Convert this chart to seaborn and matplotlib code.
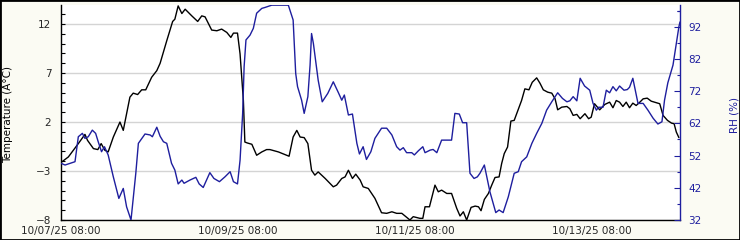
import matplotlib
matplotlib.use("Agg")
import matplotlib.pyplot as plt
import seaborn as sns
import pandas as pd
from matplotlib.ticker import MultipleLocator, FixedLocator
from matplotlib.patches import Rectangle

# ---- data (hours since 10/07/25 08:00) ----
temp_hours = [0.0, 2.0, 4.7, 6.5, 7.2, 8.8, 10.0, 10.9, 11.9, 12.8, 14.2, 16.0, 16.9, 18.7, 19.6,
              20.8, 21.9, 23.0, 24.6, 26.0, 26.9, 28.7, 30.3, 30.9, 31.8, 32.8, 33.7, 35.5, 37.1,
              38.2, 39.1, 40.9, 42.3, 43.6, 45.0, 46.1, 46.8, 47.9, 48.6, 49.5, 49.9, 50.6, 51.8,
              53.1, 54.5, 55.8, 56.7, 59.0, 61.9, 63.0, 64.0, 64.9, 66.0, 67.0, 68.0, 68.9, 69.8,
              71.7, 73.9, 74.8, 76.2, 77.1, 78.0, 79.1, 80.0, 81.2, 82.0, 83.4, 85.2, 87.0, 88.4,
              89.8, 91.1, 92.5, 93.8, 94.7, 95.6, 97.4, 98.2, 98.8, 100.0, 101.5, 102.4, 103.3,
              104.7, 106.0, 107.4, 108.3, 109.2, 110.1, 111.3, 112.4, 113.3, 114.0, 114.9, 116.0,
              116.9, 117.8, 118.9, 119.6, 120.3, 121.2, 122.1, 123.0, 124.0, 125.0, 125.9, 127.0,
              127.9, 129.1, 130.0, 130.9, 132.1, 133.2, 134.1, 134.8, 135.9, 137.3, 138.1, 139.0,
              140.0, 140.9, 142.2, 143.2, 143.9, 144.8, 146.2, 147.6, 148.9, 149.8, 150.7, 151.6,
              152.5, 153.4, 154.3, 155.2, 156.1, 157.1, 158.0, 159.1, 160.2, 161.6, 162.5, 163.4,
              164.6, 165.7, 166.4, 167.0, 167.7]
temp_values = [-2.13, -1.56, -0.2, 0.74, 0.13, -0.71, -0.81, -0.2, -0.88, -1.05, 0.47, 2.0, 1.15,
               4.54, 4.95, 4.81, 5.29, 5.29, 6.57, 7.25, 8.0, 10.3, 12.27, 12.5, 13.86, 13.08, 13.52,
               12.84, 12.27, 12.84, 12.74, 11.39, 11.32, 11.49, 11.15, 10.64, 11.08, 11.08, 8.95, 4.2,
               -0.04, -0.14, -0.27, -1.39, -1.05, -0.81, -0.81, -1.05, -1.49, 0.47, 1.15, 0.47, 0.41,
               -0.2, -2.92, -3.42, -3.09, -3.76, -4.61, -4.44, -3.76, -3.6, -2.92, -3.76, -3.32,
               -3.93, -4.61, -4.78, -5.79, -7.26, -7.32, -7.16, -7.32, -7.32, -7.73, -8.0, -7.66,
               -7.83, -7.83, -6.65, -6.65, -4.44, -5.12, -4.95, -5.29, -5.29, -6.81, -7.59, -7.16,
               -8.0, -6.71, -6.58, -6.65, -7.05, -5.9, -5.29, -4.44, -3.66, -3.6, -2.23, -1.22,
               -0.55, 2.1, 2.17, 3.18, 4.2, 5.39, 5.29, 6.06, 6.51, 5.96, 5.29, 5.05, 4.95, 4.37,
               3.25, 3.52, 3.59, 3.36, 2.68, 2.78, 2.34, 2.85, 2.34, 2.5, 3.87, 3.25, 3.8, 4.03,
               3.46, 4.2, 4.03, 3.59, 4.03, 3.46, 3.93, 3.69, 4.03, 4.37, 4.44, 4.13, 3.97, 3.87,
               2.68, 2.17, 1.89, 1.83, 0.98, 0.41]

rh_hours = [0.0, 1.1, 3.8, 4.7, 5.8, 6.5, 7.4, 8.5, 9.4, 10.1, 11.0, 11.8, 12.8, 14.2, 15.7, 16.9,
            17.8, 19.0, 20.3, 21.0, 22.8, 24.2, 24.8, 26.0, 26.9, 27.8, 28.7, 30.0, 30.9, 31.8,
            32.8, 33.4, 35.0, 36.6, 37.5, 38.6, 40.4, 41.5, 43.0, 44.5, 45.9, 46.8, 47.9, 48.6,
            49.3, 49.7, 50.2, 51.3, 52.2, 53.1, 54.5, 55.4, 57.2, 61.7, 63.0, 63.7, 64.2, 65.3,
            66.0, 67.0, 67.6, 68.0, 68.5, 69.8, 70.9, 72.4, 73.9, 75.3, 76.2, 76.9, 78.0, 79.1,
            80.3, 81.0, 82.0, 82.9, 84.1, 85.2, 87.0, 88.4, 89.8, 91.1, 92.0, 92.9, 93.8, 95.2,
            95.9, 97.0, 98.2, 98.8, 100.2, 101.0, 102.0, 103.3, 104.5, 106.0, 106.9, 108.1, 109.0,
            110.1, 111.0, 112.1, 113.0, 113.7, 114.9, 116.4, 118.0, 118.9, 120.0, 121.4, 123.0,
            124.1, 125.0, 126.4, 127.8, 129.1, 130.5, 131.8, 133.2, 134.8, 136.1, 137.3, 138.1,
            139.0, 140.0, 140.9, 142.1, 143.5, 144.4, 145.3, 145.9, 147.1, 148.0, 148.9, 149.8,
            150.7, 151.6, 152.8, 153.7, 154.3, 155.2, 156.6, 158.0, 159.3, 160.7, 162.0, 163.1,
            163.8, 164.7, 166.1, 167.0, 167.7, 168.0]
rh_values = [49.6, 49.07, 50.1, 57.85, 58.9, 57.35, 57.85, 59.9, 58.9, 56.3, 53.2, 54.75, 52.2,
             45.4, 38.7, 41.8, 36.1, 32.0, 46.5, 55.8, 58.7, 58.4, 57.85, 60.8, 58.0, 56.3, 55.8,
             49.6, 47.5, 43.2, 44.4, 43.4, 44.4, 45.25, 43.2, 42.1, 46.7, 44.9, 43.9, 45.4, 47.0,
             43.9, 43.2, 50.6, 65.1, 79.6, 87.9, 89.4, 91.5, 96.2, 97.7, 98.0, 98.7, 98.7, 94.1,
             77.5, 73.4, 69.2, 65.1, 70.3, 80.1, 89.9, 86.8, 75.4, 68.7, 71.3, 74.9, 71.5, 69.2,
             70.8, 64.6, 64.9, 55.8, 52.5, 54.75, 50.8, 53.2, 57.35, 60.5, 60.5, 58.4, 54.75, 53.7,
             54.45, 52.9, 52.9, 52.2, 53.5, 54.75, 52.9, 53.7, 53.9, 52.9, 56.8, 56.8, 56.8, 65.1,
             64.9, 62.2, 62.2, 46.5, 44.9, 45.4, 46.5, 49.07, 40.8, 34.3, 35.1, 34.3, 39.2, 46.5,
             47.0, 50.1, 51.6, 55.8, 58.9, 62.0, 66.1, 68.7, 71.5, 69.75, 68.7, 69.0, 70.3, 69.0,
             76.0, 73.6, 72.3, 68.2, 66.1, 67.0, 67.0, 72.3, 71.5, 73.4, 72.1, 73.6, 72.3, 72.5,
             73.2, 76.0, 68.2, 68.2, 66.1, 63.6, 61.8, 62.5, 69.2, 74.6, 80.1, 86.8, 92.0, 93.5]

x_tick_hours = [0, 48, 96, 144]
x_tick_labels = ["10/07/25 08:00", "10/09/25 08:00", "10/11/25 08:00", "10/13/25 08:00"]
temp_ticks = [-8, -3, 2, 7, 12]
rh_ticks = [32, 42, 52, 62, 72, 82, 92]

temp_df = pd.DataFrame({"hour": temp_hours, "temp": temp_values})
rh_df = pd.DataFrame({"hour": rh_hours, "rh": rh_values})

sns.set_style("white")
plt.rcParams["font.family"] = ["DejaVu Sans"]
BLUE = "#1e1e9e"
FS = 7.5

fig = plt.figure(figsize=(7.4, 2.4), dpi=100)
fig.patch.set_facecolor("#fbfbf3")
ax = fig.add_axes([61 / 740, 20 / 240, 619 / 740, 215 / 240])
ax.set_facecolor("white")
ax2 = ax.twinx()

sns.lineplot(data=temp_df, x="hour", y="temp", ax=ax, color="black", lw=1.0,
             sort=False, estimator=None)
sns.lineplot(data=rh_df, x="hour", y="rh", ax=ax2, color=BLUE, lw=1.0,
             sort=False, estimator=None)

ax.set_xlim(0, 168)
ax.set_ylim(-8, 13.95)
ax2.set_ylim(32, 98.75)

ax.xaxis.set_major_locator(FixedLocator(x_tick_hours))
ax.set_xticklabels(x_tick_labels)
ax.xaxis.set_minor_locator(MultipleLocator(12))
ax.yaxis.set_major_locator(FixedLocator(temp_ticks))
ax.yaxis.set_minor_locator(MultipleLocator(1))
ax2.yaxis.set_major_locator(FixedLocator(rh_ticks))
ax2.yaxis.set_minor_locator(FixedLocator([v + 5 for v in rh_ticks] + [97]))

ax.grid(axis="y", which="major", color="#d4d4d4", lw=1.0)
ax.set_axisbelow(True)

ax.tick_params(axis="x", which="both", direction="in", length=4, width=0.8,
               color="black", labelsize=FS, pad=4)
ax.tick_params(axis="y", which="both", direction="in", length=3, width=0.8,
               color="black", labelsize=FS, pad=7)
ax2.tick_params(axis="y", which="major", direction="in", length=4, width=0.8,
                color=BLUE, labelcolor=BLUE, labelsize=FS, pad=6)
ax2.tick_params(axis="y", which="minor", direction="in", length=2.5, width=0.8, color=BLUE)

for a in (ax, ax2):
    a.spines["top"].set_visible(False)
ax.spines["right"].set_visible(False)
ax2.spines["left"].set_visible(False)
ax2.spines["bottom"].set_visible(False)
ax.spines["left"].set_color("black")
ax.spines["bottom"].set_color("black")
ax.spines["left"].set_linewidth(1.0)
ax.spines["bottom"].set_linewidth(1.0)
ax2.spines["right"].set_color(BLUE)
ax2.spines["right"].set_linewidth(1.0)

ax.set_xlabel("")
ax.set_ylabel("Temperature (Â°C)", fontsize=FS, color="black")
ax.yaxis.set_label_coords(-0.0775, 0.49)
ax2.set_ylabel("RH (%)", fontsize=FS, color=BLUE)
ax2.yaxis.set_label_coords(1.0805, 0.49)

fig.patches.append(Rectangle((0, 0), 1, 1, transform=fig.transFigure, fill=False,
                             edgecolor="black", lw=2.0, zorder=10))

fig.savefig("out.png", dpi=100, facecolor=fig.get_facecolor())
